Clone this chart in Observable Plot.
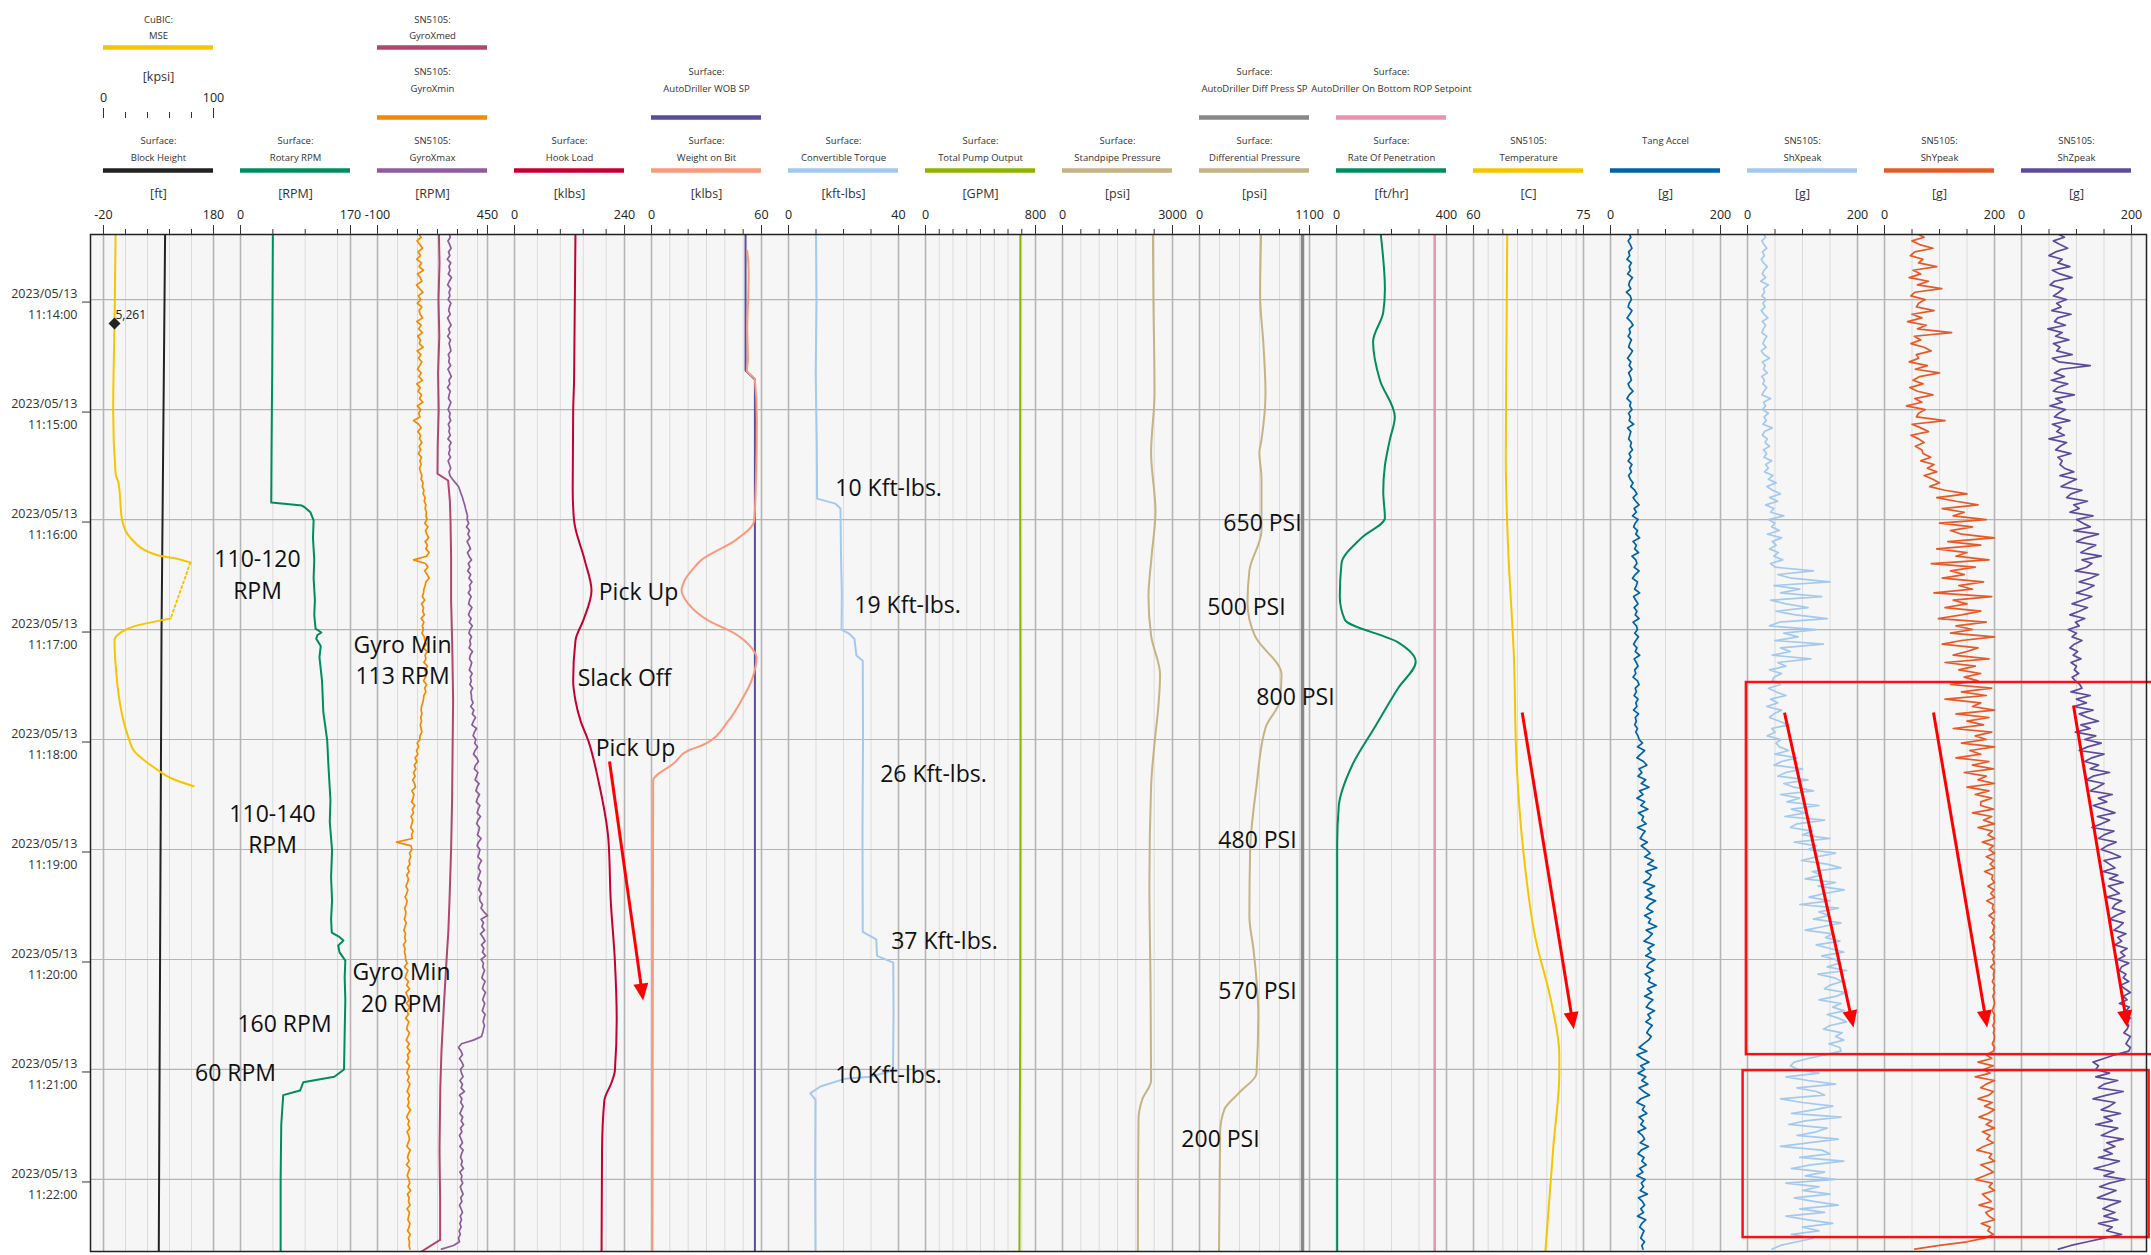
<!DOCTYPE html>
<html><head><meta charset="utf-8">
<script src="https://cdn.jsdelivr.net/npm/d3@7"></script>
<script src="https://cdn.jsdelivr.net/npm/@observablehq/plot@0.6"></script>
<style>html,body{margin:0;padding:0;background:#fff;} #chart{width:2151px;height:1255px;overflow:hidden;}</style>
</head><body><div id="chart"></div>
<script>
// ---------------- tracks ----------------
const trackLine1 = ["Surface:","Surface:","SN5105:","Surface:","Surface:","Surface:","Surface:","Surface:","Surface:","Surface:","SN5105:","Tang Accel","SN5105:","SN5105:","SN5105:"];
const trackLine2 = ["Block Height","Rotary RPM","GyroXmax","Hook Load","Weight on Bit","Convertible Torque","Total Pump Output","Standpipe Pressure","Differential Pressure","Rate Of Penetration","Temperature","","ShXpeak","ShYpeak","ShZpeak"];
const trackUnits = ["[ft]","[RPM]","[RPM]","[klbs]","[klbs]","[kft-lbs]","[GPM]","[psi]","[psi]","[ft/hr]","[C]","[g]","[g]","[g]","[g]"];
const trackLo = [-20,0,-100,0,0,0,0,0,0,0,60,0,0,0,0];
const trackHi = [180,170,450,240,60,40,800,3000,1100,400,75,200,200,200,200];
const trackStep = [40,50,100,50,10,10,100,500,200,100,2,50,50,50,50];
const trackColors = ["#222222","#008c5e","#8e5c9e","#c4002f","#f99a7d","#a3c9ee","#8cb400","#c5b285","#c5b285","#008c5e","#f6c500","#0063a5","#a3c9ee","#e55a26","#5e4b9d"];

// upper legend rows (A = top, B = middle)
const upperTrack = [0,2,2,4,8,9];
const upperRow = ["A","A","B","B","B","B"];
const upperLine1 = ["CuBIC:","SN5105:","SN5105:","Surface:","Surface:","Surface:"];
const upperLine2 = ["MSE","GyroXmed","GyroXmin","AutoDriller WOB SP","AutoDriller Diff Press SP","AutoDriller On Bottom ROP Setpoint"];
const upperColors = ["#f6c500","#b0456f","#f58a00","#5b4b9b","#888888","#ea92ad"];
const mseLo = 0, mseHi = 100, mseStep = 20, mseUnit = "[kpsi]";

// time axis
const dateLabel = "2023/05/13";
const tickTimeLabels = ["11:14:00","11:15:00","11:16:00","11:17:00","11:18:00","11:19:00","11:20:00","11:21:00","11:22:00"];

// ---------------- series (times = seconds after 11:13:00) ----------------
const blkS = [24.5, 241, 579.3];
const blkV = [92, 85.5, 80.5];

const mseS1 = [24.5, 60, 73, 121, 155, 160, 180.5, 190, 199.5, 201, 203.5];
const mseV1 = [11, 10.3, 10, 8.8, 11, 13.6, 17, 24.5, 49, 64, 79];
const mseS2 = [234, 235, 238, 241.5, 246, 259, 299.5, 306, 316.5, 321, 325.5];
const mseV2 = [61, 52, 29, 16, 10, 11, 23, 27.5, 49, 61, 82];
const mseMarkS = 73, mseMarkV = 10, mseMarkLabel = "5,261";

const rpmS = [24.5,60,100,140,170.7,172.4,173.5,176,180.5,190,202,212,224,232,239.5,241.6,243,245,249,255,268,285,300.5,315,333,345,360.5,375,388,398,405.3,407.5,409.7,412.4,416,420.6,430,442,460,480,484,487,491.5,494,510,540,579.3];
const rpmV = [50,49.5,49,48,47.5,95,100,108,113,112,114,113,115,114,116,125,119,117,124,122,126,128,134,136,139,138,141.5,140,141.5,140,141,152,159,151,153,162,161,162,161,160,145,97,92,66,63,62,62];

const gmedS = [24.5,40,60,80,100,120,140,155,158.7,170,180.6,200,224,250,278.7,300,333,360,388,405,420.6,445,469.7,490,524,550,573,579.3];
const gmedV = [207,210,205,209,203,206,201,200,253,262,265,268,268,274,278,276,273,268,260,254,245,232,220,214,210,213,213,120];

const hkS = [24.5,104,121,164,180.6,202,218.7,235,246,268,278.7,289.7,300.6,322.4,355,388,420.6,453,480.6,487,497,524,579.3];
const hkV = [133,130,128,127,130,153,168,150,133,128,133,144,161,183,205,210,219,223,219,212,196,191,190];

const wspS = [24.5, 98.7, 103.6, 579.3];
const wspV = [51.3, 51.3, 56.4, 56.4];
const wobS = [33.3,45,60.5,75,93,98.7,103.6,126,158.7,180.6,191.5,202,205.8,213,218.7,225.8,235,242.2,249.9,255.3,268,278.7,289.7,303,306,312.6,322.4,579.3];
const wobV = [52.2,53,52.7,52.2,52.6,52,56.4,57.5,57,56,45.5,27.3,23.6,18.2,16.4,20,30.9,45.5,54.5,57.3,54.5,49,42,28,20,12.7,0.9,0.5];

const torqS = [24.5,60,100,140,168.6,171.3,174,200,220,240,242.2,245.2,254.2,257,300,350,405,409,418,421.7,450,480.6,484,485,489.3,493,496.4,540,579.3];
const torqV = [10,10.2,9.9,10.3,10.4,17,18.9,19.1,19.4,19.3,22,24,24.7,27,27.1,26.9,27,31.9,32.2,38.1,38.2,38,29.8,20.7,11.6,7.9,9.8,9.7,9.8];

const pumpS = [24.5,150,300,450,579.3];
const pumpV = [690,688,691,689,683];

const spS = [24.5,60,111,143.5,175.6,200,222,243.3,264.6,282.6,300,325.7,379,432.6,486,496.4,507.3,540,579.3];
const spV = [2466,2480,2510,2416,2536,2430,2345,2416,2661,2612,2520,2416,2370,2400,2416,2174,2073,2060,2057];

const dpS = [24.5,57.8,85,111,136.4,143.5,157.6,186,207.8,225.6,243.3,264.6,279,293.3,325.4,361,396.6,414.6,450,482.2,493,501.8,514.4,579.3];
const dpV = [616,606,640,660,620,599,620,620,499,480,553,820,802,662,570,506,499,540,588,570,390,249,206,195];
const dspS = [24.5, 579.3];
const dspV = [1030, 1030];

const ropS = [24.5,54.4,67,83,104,124,136.4,150.6,164.7,179.2,190,204,222,234.6,247,257.5,272,293.3,314.7,336,357.3,579.3];
const ropV = [161,176,170,133,158,212,194,176,170,176,91,18,12,30,224,288,224,139,55,8.5,2.5,2.5];
const rspS = [24.5, 579.3];
const rspV = [357, 357];

const tempS = [24.5,80,147,193.5,254,314.7,361,407.5,443,471.6,482,521.5,579.3];
const tempV = [64.6,64.5,64.4,64.7,65.5,65.9,66.8,68.4,70.6,71.7,71.7,70.9,69.8];

// noisy channels, one sample every 2 s starting 11:13:24
const noiseStart = 24, noiseStep = 2;
const gyroMin = [
 105,118,98,112,125,103,115,96,120,108, 130,100,114,122,95,110,127,104,116,99,
 121,108,113,126,97,118,106,124,101,115, 109,128,98,117,105,122,111,100,119,107,
 125,96,114,103,120,110,127,99,116,106, 112,
 80,
 106,118,102,115,110,122,108,116,104,120,112,118,110,
 115,122,118,128,124,132,128,138,134,142,138,145,142,
 148,136,152,140,146,156,138,150,142,158, 145,80,140,152,136,148,158,142,138,132,
 130,124,136,120,130,126,134,118,132,124, 130,122,134,
 136,144,130,148,138,142,132,150,136,146,140,130,146,136,142,132,
 130,126,120,118,122,116,120,114,118,122,112,
 112,98,106,95,102,88,97,84,92,80, 88,76,85,90,72,82,78,70,86,74, 80,68,76,72,66,78,70,74,
 -5,
 68,72,60,66,58,62,50,58,46,55, 50,42,52,46,38,48,44,36,42,40, 34,44,38,32,40,36,42,30,38,35, 40,
 40,48,35,52,44,38,55,46,60,42, 50,58,45,62,48,54,40,57,50,46, 60,52,44,58,48,63,50,55,45,60,
 52,47,58,50,62,55,48,60,52,57, 50,65,54,46,58,52,62,48,56,60, 53,47,64,55,50,58,45,62,54,49,
 57,61,52,66,50,58,55,63,48,60, 56,52,62,58,50,64,55,60,58,62];
const gyroMax = [
 258,264,252,261,268,255,262,249,266,257, 263,254,270,259,251,265,258,262,253,267,
 260,256,264,250,259,268,255,262,251,265, 258,263,267,254,260,256,266,252,261,269,
 257,262,250,264,258,255,267,260,253,263, 259,266,254,261,257,264,252,268,259,262,
 256,265,253,260,266,258,262,
 275,290,305,312,318,325,330,336,340,345,350,
 348,356,345,360,352,362,348,357,365,350, 358,370,354,362,351,366,357,372,360,365,
 354,368,360,356,372,362,355,368,359,374, 363,357,370,361,366,358,375,364,360,371,
 366,359,373,364,369,362,376,366,370,
 370,378,366,382,374,390,380,372,395,384, 378,392,386,400,388,380,396,405,390,384,
 402,395,388,408,398,392,410,400,394,412, 404,398,415,402,396,410,406,400,418,405,
 398,412,408,402,420,410,404,415,408,402, 418,412,406,420,410,
 412,425,418,432,450,418,430,422,435,415, 428,438,420,432,425,440,418,430,426,435,
 428,422,438,430,425,440,432,426,436,430, 424,438,432,428,435,430,426,420,
 380,320,
 305,318,325,310,322,330,315,320,328,312, 325,318,335,310,322,316,328,320,312,326,
 318,330,315,322,310,318,325,312,328,320, 315,324,318,330,312,322,318,326,314,320,
 328,316,322,310,318,325,314,320,312,318, 308,314,305,310,
 280,220];
const tangAccel = [
 34,37,32,36,39,33,35,30,38,34, 36,31,40,35,33,37,29,36,38,34, 32,39,35,30,37,41,34,36,32,38,
 35,33,40,36,31,37,34,39,33,36, 38,32,35,41,34,30,37,35,39,33, 36,34,42,31,37,35,33,38,36,40,
 34,37,32,39,35,38,33,36,41,37,
 44,48,41,46,52,43,47,40,50,45, 42,49,46,53,41,47,44,51,39,46, 48,43,52,45,40,49,47,44,53,42,
 46,50,43,48,45,52,41,47,49,44, 51,46,42,48,45,53,43,47,50,44, 46,41,49,52,45,47,43,50,46,48,
 42,51,45,47,44,49,46,50,
 52,58,49,62,55,48,60,66,52,57, 50,64,56,70,53,59,48,62,55,68, 51,60,57,65,49,63,58,54,67,56,
 65,72,62,78,68,84,64,74,70,60, 80,67,75,63,82,71,66,77,62,73, 69,84,65,76,70,61,79,68,74,64,
 81,70,66,78,63,72,69,83,67,75, 62,77,70,65,80,68,73,64,76,70, 66,74,69,
 60,52,66,48,58,70,55,62,50,64, 57,68,52,60,71,55,48,62,58,66, 52,60,55,64,50,58,62,54,69,56,
 50,61,57,65,53,59,48,63,56,60, 54,67,51,58,62,55,60,49,64,57, 53,61,58,55,62,57,59];
const shX = [
 28,33,26,30,35,27,31,25,29,36, 30,27,33,24,38,29,31,26,34,28, 32,25,30,37,27,33,29,26,35,31,
 28,34,25,30,40,27,32,29,36,26, 31,28,35,30,26,42,29,33,27,38, 30,34,28,45,31,27,36,32,40,29,
 35,30,44,33,38,31,46,
 38,52,35,46,60,40,55,33,48,42, 66,38,50,44,58,36,62,45,52,40, 56,48,64,42,50,
 120,55,80,150,48,95,60,135,42,70, 110,52,88,145,58,40,125,66,92,50, 138,60,78,45,115,55,70,40,62,48,
 45,60,38,52,70,42,55,35,62,48, 40,58,75,44,50,36,60,52,
 58,75,50,90,62,48,100,70,55,110, 66,85,120,60,95,72,130,80,105,68, 140,90,78,118,100,150,85,125,
 110,160,125,98,145,170,118,135,105,160, 128,176,140,112,150,95,165,130,148,120, 170,138,105,155,142,168,125,
 150,175,135,160,168,145,180,128,158,172, 150,140,178,162,130,170,155,176,145,165, 180,150,138,172,160,175,148,168,170,
 140,110,85,78,92,
 130,70,110,160,90,125,140,60,100,155, 120,80,170,105,75,145,125,90,165,110, 60,135,150,95,175,115,80,140,105,160,
 70,130,100,150,85,120,165,95,140,70, 110,155,100,130,80,120,90,60,45];
const shY = [
 58,72,50,64,88,55,47,70,62,95, 52,66,45,80,60,104,55,48,74,62, 58,90,50,68,42,76,60,122,54,66,
 48,72,85,58,62,45,78,56,100,64, 52,70,46,60,88,55,68,40,74,62, 58,110,50,66,80,48,62,72,56,68,
 70,84,66,90,78,95,72,88,100,82,
 110,150,95,130,170,105,145,125,185,100, 160,120,140,200,115,175,95,150,130,190, 85,165,120,145,105,180,135,160,90,195,
 125,150,110,175,140,98,185,130,160,120, 200,140,105,170,150,125,190,110,165,135, 175,145,
 170,120,195,140,185,110,175,160,200,130, 190,150,180,125,195,165,185,140,200,155, 175,130,190,160,198,145,185,170,200,150,
 190,165,195,175,
 175,198,160,195,180,200,170,196,188,200, 178,198,190,200,185,199,192,200,182,197, 195,200,188,199,193,200,186,198,196,200,
 190,199,195,200,197,199,192,200,198,200, 195,199,197,200,193,200,198,199,196,200, 198,200,197,199,200,198,196,200,199,200,
 197,200,198,200,199,196,200,198,
 185,195,170,198,180,192,165,200,185,175, 198,190,170,196,182,200,188,172,195,185, 200,178,192,186,198,180,168,195,190,200,
 175,188,198,182,165,196,190,200,178,186, 194,172,198,184,190,200,176,192,188,198, 182,
 150,100,55];
const shZ = [
 65,78,58,70,84,62,50,74,66,88, 56,70,92,60,52,76,68,58,82,64, 72,55,90,66,60,80,48,74,62,86,
 58,70,64,92,56,68,125,72,60,78, 54,84,66,58,96,62,74,52,80,68, 60,88,56,72,64,78,50,82,70,62,
 90,66,74,70,
 78,95,70,100,85,72,110,90,82,120, 95,105,88,130,100,112,125,95,140,115, 100,135,120,108,145,110,128,118,98,140,
 125,105,132,118,100,128,110,92,120,105, 88,115,98,105,85,100,92,110,96,88, 102,94,108,90,100,96,104,92,98,106,
 110,90,125,100,118,95,130,105,120,140, 108,125,98,135,115,145,120,105,150,128, 115,140,125,160,130,118,150,138,125,165,
 140,155,130,150,170,138,160,145,128,168, 150,140,172,155,145,165,180,150,160,170, 148,175,160,185,158,168,178,155,182,170,
 165,188,172,160,185,178,168,190,175,182, 170,192,180,188,175,195,182,178,190,185, 195,180,188,198,185,192,178,196,190,185,
 198,188,195,192,186,198,194,190,198,195,
 170,150,130,140,135,
 160,135,175,150,140,185,155,130,170,160, 145,180,150,165,135,175,160,145,185,155, 170,150,165,140,178,158,132,168,150,188,
 160,142,172,155,138,180,162,148,170,150, 175,140,165,155,182,150,
 120,90,67];

// ---------------- annotations ----------------
const annText = ["110-120\nRPM","Gyro Min\n113 RPM","110-140\nRPM","Gyro Min\n20 RPM","160 RPM","60 RPM","Pick Up","Slack Off","Pick Up",
 "10 Kft-lbs.","19 Kft-lbs.","26 Kft-lbs.","37 Kft-lbs.","10 Kft-lbs.","650 PSI","500 PSI","800 PSI","480 PSI","570 PSI","200 PSI"];
const annTrack = [1,2,1,2,1,1,3,3,3,5,5,5,5,5,8,8,8,8,8,8];
const annValue = [26.3,25,49.5,20,68,-7.7,270.6,240,264,36.4,43.3,52.7,56.7,36.4,630,470,960,580,580,210];
const annSec = [209.2,256.1,347.8,434.5,453.9,480.6,218.7,265.6,303.8,162,225.3,317.5,408.6,482.2,181.1,226.4,275.5,353.5,436.4,517.1];

const arrowTrack = [3,10,12,13,14];
const arrowV1 = [207.3,66.64,67.3,89.1,94.5];
const arrowS1 = [312,285.3,285.3,285.3,281.5];
const arrowV2 = [280.8,73.68,192.7,186.7,192.7];
const arrowS2 = [442.4,458,457.1,457.1,457.1];

const boxTrack1 = [12,12], boxV1 = [-2,-8], boxTrack2 = [14,14], boxV2 = [245,232];
const boxS1 = [268.9,480.6], boxS2 = [471.9,571.7];

// ---------------- layout helpers ----------------
const W = 2151, H = 1255, mTop = 234, mLeft = 90, mRight = 5, mBottom = 4;
const TW = 110/137;                                 // track width in track units
const xDomain = [-13/137, (W - mRight - 103)/137];
const posR = (i, v, lo, hi) => i + TW*(v - lo)/(hi - lo);
const pos = (i, v) => posR(i, v, trackLo[i], trackHi[i]);
const base = new Date(2023, 4, 13, 11, 13, 0).getTime();
const T = s => new Date(base + s*1000);
const yDomain = [T(24.5), T(579.3)];
const tickDates = tickTimeLabels.map(t => { const [h,m,s] = t.split(":").map(Number); return new Date(2023,4,13,h,m,s); });
const fmt = d3.timeFormat("%H:%M:%S");

const rows = (i, S, V, lo = trackLo[i], hi = trackHi[i]) => S.map((s, k) => ({x: posR(i, V[k], lo, hi), y: T(s)}));
const nS = arr => arr.map((_, k) => noiseStart + noiseStep*k);

const series = [
  {d: rows(0, blkS, blkV), c: trackColors[0], w: 2},
  {d: rows(0, mseS1, mseV1, mseLo, mseHi), c: upperColors[0], w: 2, curve: "monotone-y"},
  {d: rows(0, mseS2, mseV2, mseLo, mseHi), c: upperColors[0], w: 2, curve: "monotone-y"},
  {d: rows(1, rpmS, rpmV), c: trackColors[1], w: 2},
  {d: rows(2, nS(gyroMin), gyroMin), c: upperColors[2], w: 1.7},
  {d: rows(2, gmedS, gmedV), c: upperColors[1], w: 2},
  {d: rows(2, nS(gyroMax), gyroMax), c: trackColors[2], w: 1.7},
  {d: rows(3, hkS, hkV), c: trackColors[3], w: 2, curve: "monotone-y"},
  {d: rows(4, wspS, wspV), c: upperColors[3], w: 2},
  {d: rows(4, wobS, wobV), c: trackColors[4], w: 2, curve: "monotone-y"},
  {d: rows(5, torqS, torqV), c: trackColors[5], w: 2},
  {d: rows(6, pumpS, pumpV), c: trackColors[6], w: 2},
  {d: rows(7, spS, spV), c: trackColors[7], w: 2, curve: "monotone-y"},
  {d: rows(8, dspS, dspV), c: upperColors[4], w: 3.5},
  {d: rows(8, dpS, dpV), c: trackColors[8], w: 2, curve: "monotone-y"},
  {d: rows(9, rspS, rspV), c: upperColors[5], w: 2.5},
  {d: rows(9, ropS, ropV), c: trackColors[9], w: 2, curve: "monotone-y"},
  {d: rows(10, tempS, tempV), c: trackColors[10], w: 2, curve: "monotone-y"},
  {d: rows(11, nS(tangAccel), tangAccel), c: trackColors[11], w: 1.7},
  {d: rows(12, nS(shX), shX), c: trackColors[12], w: 1.7},
  {d: rows(13, nS(shY), shY), c: trackColors[13], w: 1.7},
  {d: rows(14, nS(shZ), shZ), c: trackColors[14], w: 1.7}
];
const mseGap = [
  {x: posR(0, mseV1[mseV1.length-1], mseLo, mseHi), y: T(mseS1[mseS1.length-1])},
  {x: posR(0, mseV2[0], mseLo, mseHi), y: T(mseS2[0])}
];

// grid
const interiorGrid = [], edgeGrid = [], tickInterior = [], tickEnds = [], endLabels = [];
trackLo.forEach((lo, i) => {
  const hi = trackHi[i], st = trackStep[i];
  for (let k = 1; lo + k*st < hi - 1e-9; k++) { interiorGrid.push(pos(i, lo + k*st)); tickInterior.push(pos(i, lo + k*st)); }
  edgeGrid.push(i, i + TW); tickEnds.push(i, i + TW);
  endLabels.push({x: i, t: String(lo)}, {x: i + TW, t: String(hi)});
});
const mseTickInterior = [], mseTickEnds = [posR(0, mseLo, mseLo, mseHi), posR(0, mseHi, mseLo, mseHi)];
for (let v = mseLo + mseStep; v < mseHi; v += mseStep) mseTickInterior.push(posR(0, v, mseLo, mseHi));

const legendC = trackLine1.map((l1, i) => ({cx: i + TW/2, x1: i, x2: i + TW, l1, l2: trackLine2[i], unit: trackUnits[i], color: trackColors[i]}));
const legendU = upperTrack.map((i, k) => ({cx: i + TW/2, x1: i, x2: i + TW, l1: upperLine1[k], l2: upperLine2[k], color: upperColors[k], row: upperRow[k]}));

const annData = annText.map((t, k) => ({t, x: pos(annTrack[k], annValue[k]), y: T(annSec[k])}));
const boxData = boxS1.map((s, k) => ({x1: pos(boxTrack1[k], boxV1[k]), x2: pos(boxTrack2[k], boxV2[k]), y1: T(s), y2: T(boxS2[k])}));

// arrows: shaft + filled head, oriented with the plot's own scales
const xS = Plot.scale({x: {domain: xDomain, range: [mLeft, W - mRight]}});
const yS = Plot.scale({y: {type: "time", domain: yDomain, range: [mTop, H - mBottom]}});
const HEAD = 11;
const arrowData = arrowTrack.map((i, k) => {
  const x1 = pos(i, arrowV1[k]), y1 = T(arrowS1[k]), x2 = pos(i, arrowV2[k]), y2 = T(arrowS2[k]);
  const px1 = xS.apply(x1), py1 = yS.apply(y1), px2 = xS.apply(x2), py2 = yS.apply(y2);
  const L = Math.hypot(px2 - px1, py2 - py1), ux = (px2 - px1)/L, uy = (py2 - py1)/L;
  const hx = xS.invert(px2 - HEAD*ux), hy = yS.invert(py2 - HEAD*uy);
  return {x1, y1, hx, hy, r: Math.atan2(ux, -uy)*180/Math.PI};
});
const headSymbol = {draw(ctx) { ctx.moveTo(0, -11); ctx.lineTo(7.5, 6); ctx.lineTo(-7.5, 6); ctx.closePath(); }};

const topTime = () => yDomain[0];
const txt = "#333333";

const marks = [
  Plot.frame({fill: "#f6f6f6", stroke: null}),
  Plot.ruleX(interiorGrid, {stroke: "#dcdcdc", strokeWidth: 1}),
  Plot.ruleY(tickDates, {stroke: "#b4b4b4", strokeWidth: 1.2}),
  Plot.ruleX(edgeGrid, {stroke: "#b5b5b5", strokeWidth: 1.6}),
  ...series.map(s => Plot.line(s.d, {x: "x", y: "y", stroke: s.c, strokeWidth: s.w, curve: s.curve || "linear", clip: true})),
  Plot.line(mseGap, {x: "x", y: "y", stroke: upperColors[0], strokeWidth: 2, strokeDasharray: "2,3"}),
  Plot.dot([{x: posR(0, mseMarkV, mseLo, mseHi), y: T(mseMarkS)}], {x: "x", y: "y", symbol: "square", rotate: 45, r: 4.8, fill: "#222", stroke: null}),
  Plot.text([{x: posR(0, mseMarkV, mseLo, mseHi), y: T(mseMarkS), t: mseMarkLabel}], {x: "x", y: "y", text: "t", textAnchor: "start", dx: 1, dy: -8, fontSize: 12, fill: "#222"}),
  Plot.text(annData, {x: "x", y: "y", text: "t", fontSize: 23, lineHeight: 1.35, fill: "#111"}),
  Plot.rect(boxData, {x1: "x1", x2: "x2", y1: "y1", y2: "y2", fill: "none", stroke: "#ff1010", strokeWidth: 2.5}),
  Plot.link(arrowData, {x1: "x1", y1: "y1", x2: "hx", y2: "hy", stroke: "#ff0000", strokeWidth: 3}),
  Plot.dot(arrowData, {x: "hx", y: "hy", rotate: "r", symbol: headSymbol, fill: "#ff0000", stroke: null}),
  Plot.frame({stroke: "#222", strokeWidth: 1.5}),
  Plot.axisY(tickDates, {anchor: "left", tickSize: 8, tickPadding: 5, tickFormat: d => dateLabel + "\n" + fmt(d), fontSize: 12.5, lineHeight: 1.7, dy: 2.5, color: txt, label: null}),
  Plot.axisX(tickInterior, {anchor: "top", tickSize: 6, tickFormat: () => "", color: "#333", label: null}),
  Plot.axisX(tickEnds, {anchor: "top", tickSize: 10, tickFormat: () => "", color: "#333", label: null}),
  Plot.text(endLabels, {x: "x", text: "t", frameAnchor: "top", dy: -24, fontSize: 12.5, fill: "#222"}),
  // bottom legend row
  Plot.text(legendC, {x: "cx", text: "l1", frameAnchor: "top", dy: -97, fontSize: 9.5, fill: txt}),
  Plot.text(legendC, {x: "cx", text: "l2", frameAnchor: "top", dy: -80, fontSize: 9.5, fill: txt}),
  ...legendC.map(d => Plot.ruleY([d], {y: topTime, x1: "x1", x2: "x2", dy: -64, stroke: d.color, strokeWidth: 4.5})),
  Plot.text(legendC, {x: "cx", text: "unit", frameAnchor: "top", dy: -45, fontSize: 12.5, fill: txt}),
  // middle & top legend rows
  ...legendU.map(d => {
    const o = d.row === "A" ? [-218, -202, -187] : [-166, -149, -117];
    return [
      Plot.text([d], {x: "cx", text: "l1", frameAnchor: "top", dy: o[0], fontSize: 9.5, fill: txt}),
      Plot.text([d], {x: "cx", text: "l2", frameAnchor: "top", dy: o[1], fontSize: 9.5, fill: txt}),
      Plot.ruleY([d], {y: topTime, x1: "x1", x2: "x2", dy: o[2], stroke: d.color, strokeWidth: 4.5})
    ];
  }).flat(),
  // MSE mini scale
  Plot.text([{x: TW/2, t: mseUnit}], {x: "x", text: "t", frameAnchor: "top", dy: -162, fontSize: 12.5, fill: txt}),
  Plot.text([{x: mseTickEnds[0], t: String(mseLo)}, {x: mseTickEnds[1], t: String(mseHi)}], {x: "x", text: "t", frameAnchor: "top", dy: -141, fontSize: 12.5, fill: "#222"}),
  Plot.axisX(mseTickInterior, {anchor: "top", dy: -117, tickSize: 6, tickFormat: () => "", color: "#333", label: null}),
  Plot.axisX(mseTickEnds, {anchor: "top", dy: -117, tickSize: 10, tickFormat: () => "", color: "#333", label: null})
];

const chart = Plot.plot({
  width: W, height: H,
  marginTop: mTop, marginLeft: mLeft, marginRight: mRight, marginBottom: mBottom,
  x: {domain: xDomain, range: [mLeft, W - mRight]},
  y: {type: "time", domain: yDomain, range: [mTop, H - mBottom]},
  style: {fontFamily: "'Open Sans', sans-serif", background: "#ffffff", overflow: "visible"},
  marks
});
document.getElementById("chart").appendChild(chart);
</script></body></html>
